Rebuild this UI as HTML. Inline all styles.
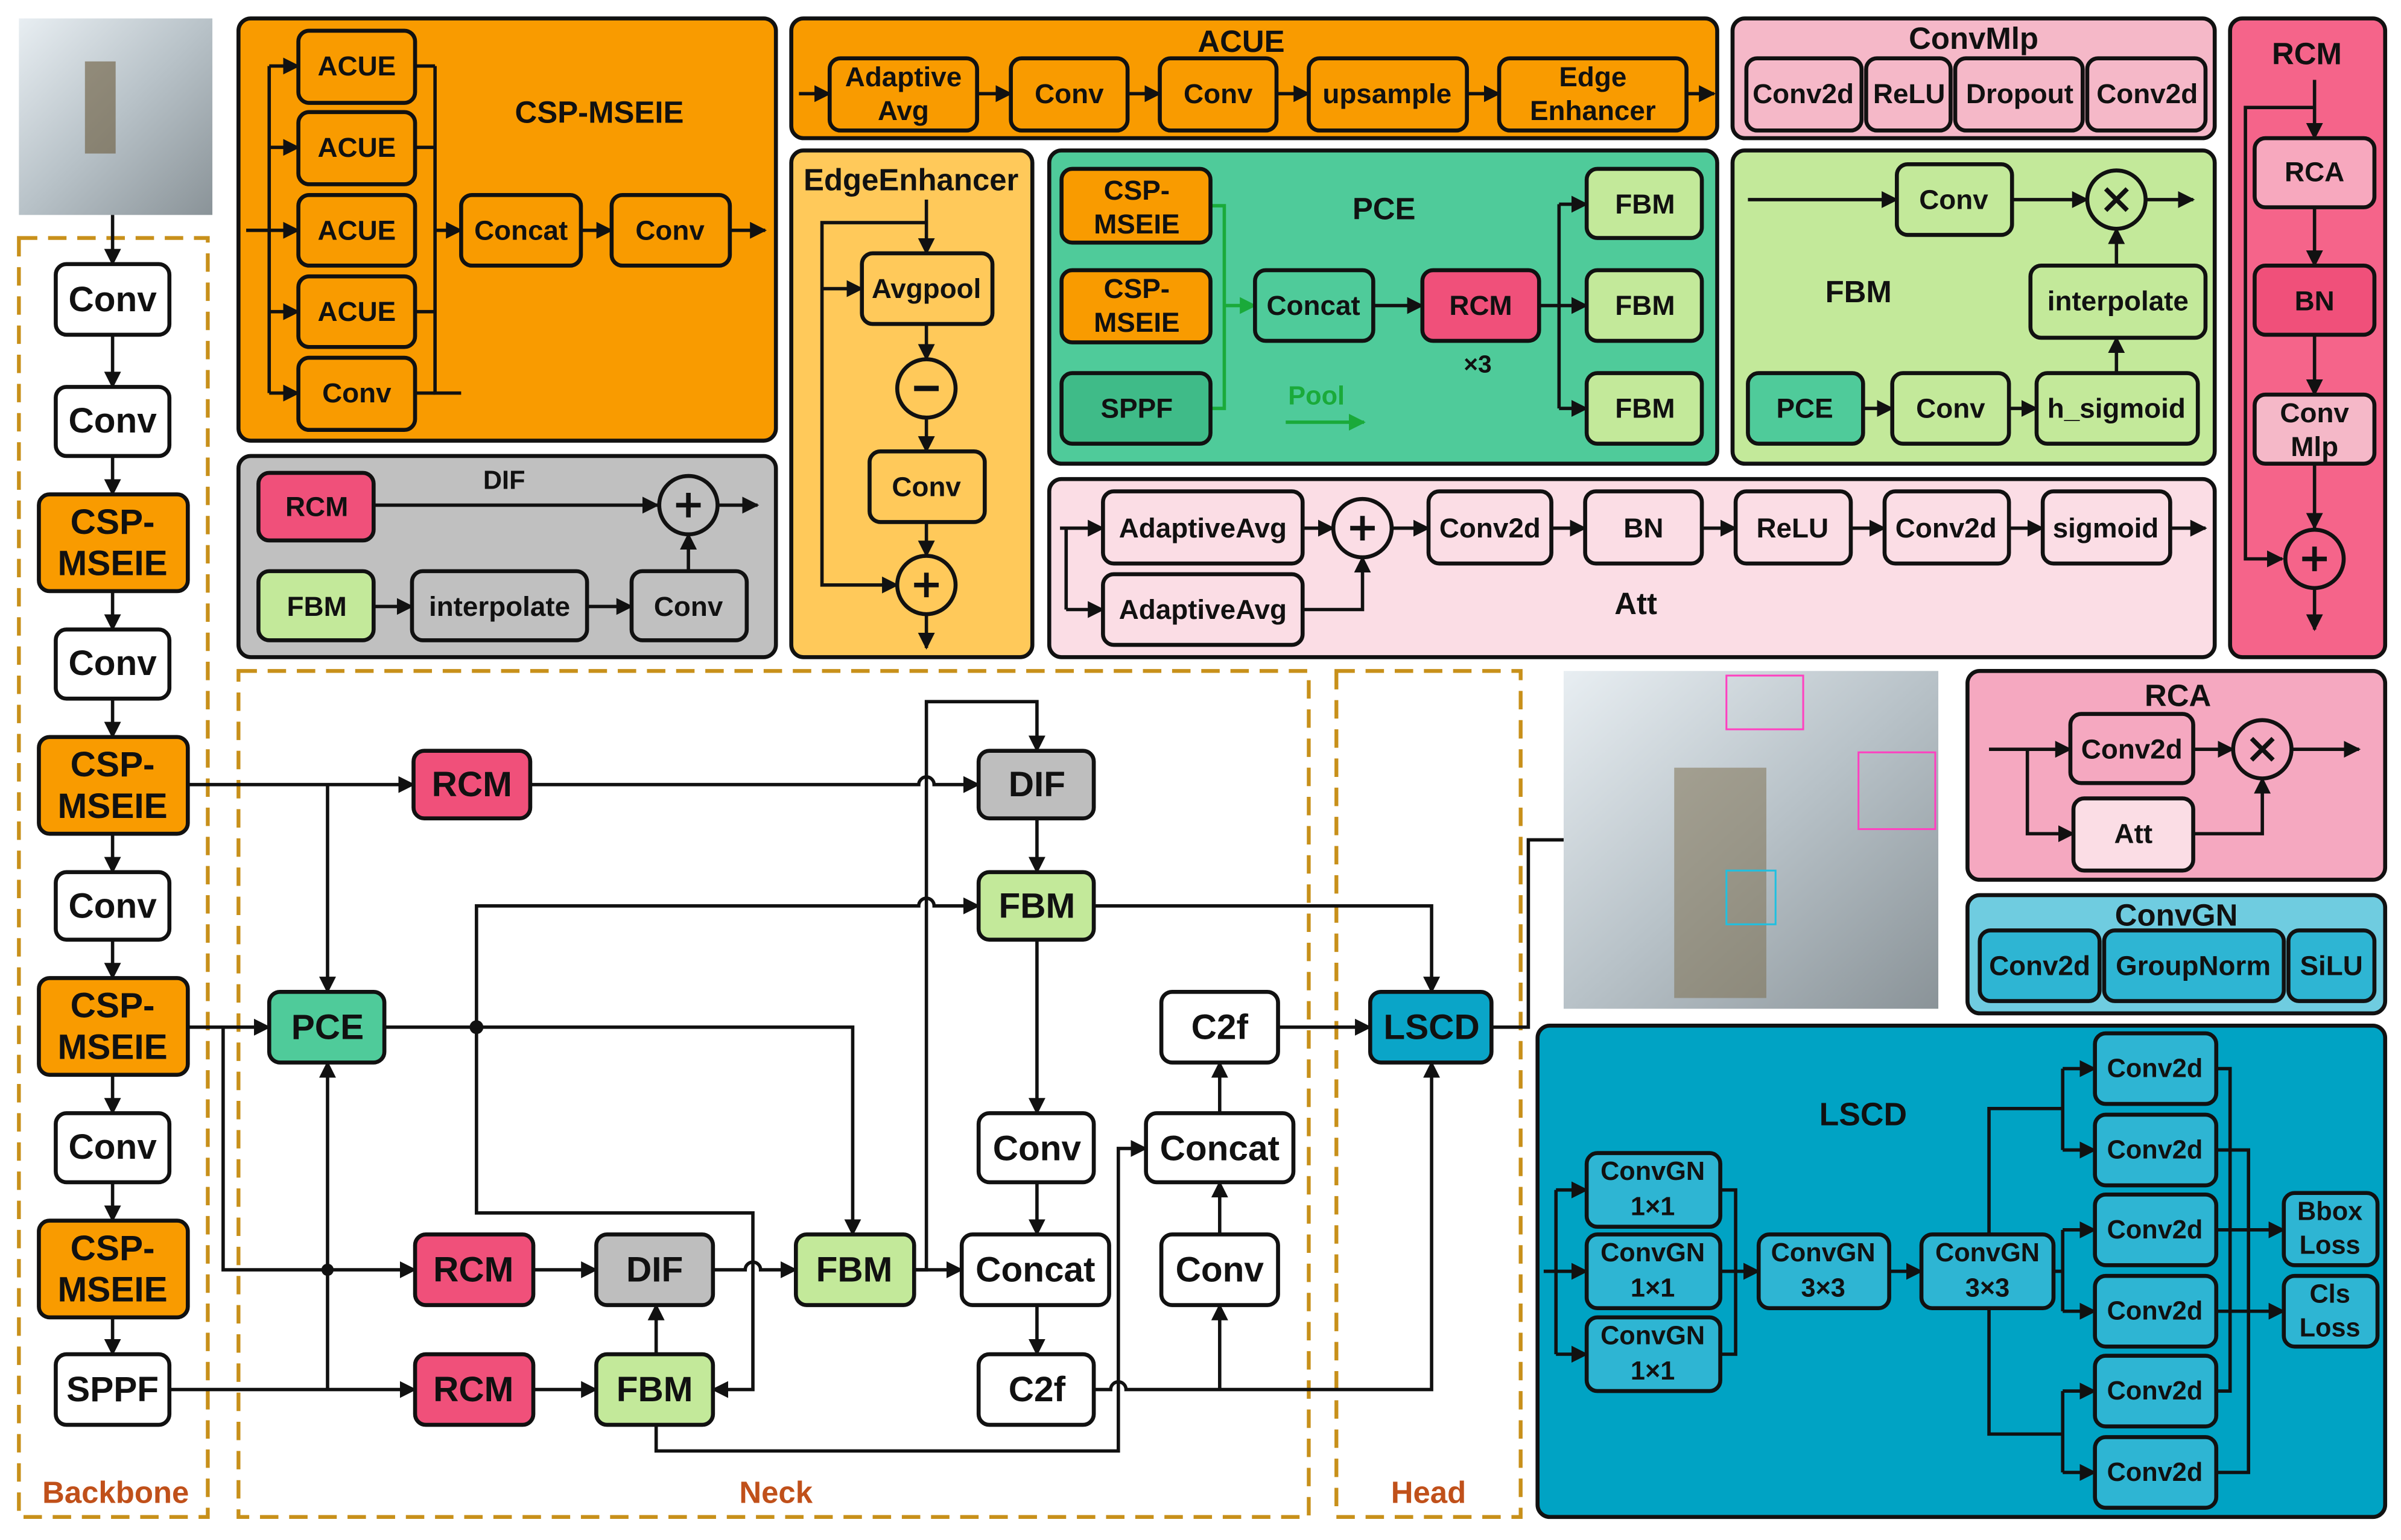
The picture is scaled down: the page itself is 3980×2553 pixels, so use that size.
<!DOCTYPE html>
<html><head><meta charset="utf-8"><style>
html,body{margin:0;padding:0;background:#fff}
svg{display:block}
text{font-family:"Liberation Sans","DejaVu Sans",sans-serif;font-weight:bold;text-anchor:middle;dominant-baseline:central;fill:#111}
.b{stroke:#111;stroke-width:2.6}
.l{stroke:#111;stroke-width:2.2;fill:none}
.p{stroke:#111;stroke-width:2.6}
.d{stroke:#C8901A;stroke-width:2.5;fill:none;stroke-dasharray:12 7}
</style></head><body>
<svg width="3980" height="2553" viewBox="0 0 1563 1003" xmlns="http://www.w3.org/2000/svg">
<defs>
<marker id="a" viewBox="0 0 10 10" refX="9" refY="5" markerWidth="5" markerHeight="5" orient="auto" markerUnits="strokeWidth"><path d="M0,0L10,5L0,10z" fill="#111"/></marker>
<marker id="g" viewBox="0 0 10 10" refX="9" refY="5" markerWidth="5" markerHeight="5" orient="auto" markerUnits="strokeWidth"><path d="M0,0L10,5L0,10z" fill="#1aaa3a"/></marker>
<linearGradient id="img" x1="0" y1="0" x2="1" y2="1"><stop offset="0" stop-color="#e8eef2"/><stop offset="0.5" stop-color="#b8c2c8"/><stop offset="1" stop-color="#8a9398"/></linearGradient>
</defs>
<rect width="1563" height="1003" fill="#fff"/>

<!-- top-left image -->
<rect x="12" y="12" width="126" height="128" fill="url(#img)"/>
<rect x="55" y="40" width="20" height="60" fill="#6b5a3a" opacity="0.6"/>

<!-- dashed regions -->
<rect class="d" x="12" y="155" width="123" height="833"/>
<rect class="d" x="155" y="437" width="697" height="551"/>
<rect class="d" x="870" y="437" width="120" height="551"/>
<text x="75" y="972" style="fill:#C0501A;font-size:20px">Backbone</text>
<text x="505" y="972" style="fill:#C0501A;font-size:20px">Neck</text>
<text x="930" y="972" style="fill:#C0501A;font-size:20px">Head</text>

<!-- backbone -->
<g style="font-size:23px">
<line class="l" x1="73" y1="140" x2="73" y2="172" marker-end="url(#a)"/>
<rect class="b" x="36" y="172" width="74" height="46" rx="7" fill="#fff"/><text x="73" y="195">Conv</text>
<line class="l" x1="73" y1="218" x2="73" y2="252" marker-end="url(#a)"/>
<rect class="b" x="36" y="252" width="74" height="45" rx="7" fill="#fff"/><text x="73" y="274">Conv</text>
<line class="l" x1="73" y1="297" x2="73" y2="322" marker-end="url(#a)"/>
<rect class="b" x="25" y="322" width="97" height="63" rx="7" fill="#F99B00"/><text x="73" y="340">CSP-</text><text x="73" y="367">MSEIE</text>
<line class="l" x1="73" y1="385" x2="73" y2="410" marker-end="url(#a)"/>
<rect class="b" x="36" y="410" width="74" height="45" rx="7" fill="#fff"/><text x="73" y="432">Conv</text>
<line class="l" x1="73" y1="455" x2="73" y2="480" marker-end="url(#a)"/>
<rect class="b" x="25" y="480" width="97" height="63" rx="7" fill="#F99B00"/><text x="73" y="498">CSP-</text><text x="73" y="525">MSEIE</text>
<line class="l" x1="73" y1="543" x2="73" y2="568" marker-end="url(#a)"/>
<rect class="b" x="36" y="568" width="74" height="44" rx="7" fill="#fff"/><text x="73" y="590">Conv</text>
<line class="l" x1="73" y1="612" x2="73" y2="637" marker-end="url(#a)"/>
<rect class="b" x="25" y="637" width="97" height="63" rx="7" fill="#F99B00"/><text x="73" y="655">CSP-</text><text x="73" y="682">MSEIE</text>
<line class="l" x1="73" y1="700" x2="73" y2="725" marker-end="url(#a)"/>
<rect class="b" x="36" y="725" width="74" height="45" rx="7" fill="#fff"/><text x="73" y="747">Conv</text>
<line class="l" x1="73" y1="770" x2="73" y2="795" marker-end="url(#a)"/>
<rect class="b" x="25" y="795" width="97" height="63" rx="7" fill="#F99B00"/><text x="73" y="813">CSP-</text><text x="73" y="840">MSEIE</text>
<line class="l" x1="73" y1="858" x2="73" y2="882" marker-end="url(#a)"/>
<rect class="b" x="36" y="882" width="74" height="46" rx="7" fill="#fff"/><text x="73" y="905">SPPF</text>
</g>

<!-- neck connections -->
<g>
<line class="l" x1="122" y1="511" x2="269" y2="511" marker-end="url(#a)"/>
<line class="l" x1="213" y1="511" x2="213" y2="646" marker-end="url(#a)"/>
<path class="l" d="M345,511H598a5,5 0 0 1 10,0H637" marker-end="url(#a)"/>
<path class="l" d="M595,827H603V457H675V489" marker-end="url(#a)"/>
<line class="l" x1="675" y1="533" x2="675" y2="568" marker-end="url(#a)"/>
<path class="l" d="M310,669V590H598a5,5 0 0 1 10,0H637" marker-end="url(#a)"/>
<path class="l" d="M310,669V790H490V905H464" marker-end="url(#a)"/>
<circle cx="310" cy="669" r="4.5" fill="#111"/>
<line class="l" x1="122" y1="669" x2="175" y2="669" marker-end="url(#a)"/>
<path class="l" d="M145,669V827H270" marker-end="url(#a)"/>
<path class="l" d="M250,669H555V804" marker-end="url(#a)"/>
<path class="l" d="M712,590H932V646" marker-end="url(#a)"/>
<line class="l" x1="675" y1="612" x2="675" y2="725" marker-end="url(#a)"/>
<line class="l" x1="675" y1="770" x2="675" y2="804" marker-end="url(#a)"/>
<line class="l" x1="675" y1="850" x2="675" y2="882" marker-end="url(#a)"/>
<path class="l" d="M712,905H723a5,5 0 0 1 10,0H932V692" marker-end="url(#a)"/>
<line class="l" x1="794" y1="905" x2="794" y2="850" marker-end="url(#a)"/>
<line class="l" x1="794" y1="804" x2="794" y2="770" marker-end="url(#a)"/>
<line class="l" x1="794" y1="725" x2="794" y2="692" marker-end="url(#a)"/>
<line class="l" x1="832" y1="669" x2="892" y2="669" marker-end="url(#a)"/>
<path class="l" d="M427,928V945H728V748H746" marker-end="url(#a)"/>
<line class="l" x1="110" y1="905" x2="270" y2="905" marker-end="url(#a)"/>
<line class="l" x1="213" y1="905" x2="213" y2="692" marker-end="url(#a)"/>
<circle cx="213" cy="827" r="4" fill="#111"/>
<line class="l" x1="347" y1="827" x2="388" y2="827" marker-end="url(#a)"/>
<path class="l" d="M464,827H485a5,5 0 0 1 10,0H518" marker-end="url(#a)"/>
<line class="l" x1="427" y1="882" x2="427" y2="850" marker-end="url(#a)"/>
<line class="l" x1="347" y1="905" x2="388" y2="905" marker-end="url(#a)"/>
<line class="l" x1="595" y1="827" x2="626" y2="827" marker-end="url(#a)"/>
<path class="l" d="M971,669H995V547H1018"/>
</g>

<!-- neck nodes -->
<g style="font-size:23px">
<rect class="b" x="269" y="489" width="76" height="44" rx="7" fill="#F0507A"/><text x="307" y="511">RCM</text>
<rect class="b" x="637" y="489" width="75" height="44" rx="7" fill="#BEBEBE"/><text x="675" y="511">DIF</text>
<rect class="b" x="637" y="568" width="75" height="44" rx="7" fill="#C3E99A"/><text x="675" y="590">FBM</text>
<rect class="b" x="175" y="646" width="75" height="46" rx="7" fill="#4FCB9A"/><text x="213" y="669">PCE</text>
<rect class="b" x="756" y="646" width="76" height="46" rx="7" fill="#fff"/><text x="794" y="669">C2f</text>
<rect class="b" x="892" y="646" width="79" height="46" rx="7" fill="#0AA5C8"/><text x="932" y="669">LSCD</text>
<rect class="b" x="637" y="725" width="75" height="45" rx="7" fill="#fff"/><text x="675" y="748">Conv</text>
<rect class="b" x="746" y="725" width="96" height="45" rx="7" fill="#fff"/><text x="794" y="748">Concat</text>
<rect class="b" x="270" y="804" width="77" height="46" rx="7" fill="#F0507A"/><text x="308" y="827">RCM</text>
<rect class="b" x="388" y="804" width="76" height="46" rx="7" fill="#BEBEBE"/><text x="426" y="827">DIF</text>
<rect class="b" x="518" y="804" width="77" height="46" rx="7" fill="#C3E99A"/><text x="556" y="827">FBM</text>
<rect class="b" x="626" y="804" width="96" height="46" rx="7" fill="#fff"/><text x="674" y="827">Concat</text>
<rect class="b" x="756" y="804" width="76" height="46" rx="7" fill="#fff"/><text x="794" y="827">Conv</text>
<rect class="b" x="270" y="882" width="77" height="46" rx="7" fill="#F0507A"/><text x="308" y="905">RCM</text>
<rect class="b" x="388" y="882" width="76" height="46" rx="7" fill="#C3E99A"/><text x="426" y="905">FBM</text>
<rect class="b" x="637" y="882" width="75" height="46" rx="7" fill="#fff"/><text x="675" y="905">C2f</text>
</g>

<!-- detection image -->
<rect x="1018" y="437" width="244" height="220" fill="url(#img)"/>
<rect x="1090" y="500" width="60" height="150" fill="#7a6a48" opacity="0.5"/>
<rect x="1124" y="440" width="50" height="35" fill="none" stroke="#ff40c0" stroke-width="1.2"/>
<rect x="1210" y="490" width="50" height="50" fill="none" stroke="#ff40c0" stroke-width="1.2"/>
<rect x="1124" y="567" width="32" height="35" fill="none" stroke="#20c0e0" stroke-width="1.2"/>

<!-- CSP-MSEIE panel -->
<rect class="p" x="155" y="12" width="350" height="275" rx="8" fill="#F99B00"/>
<text x="390" y="73" style="font-size:20px">CSP-MSEIE</text>
<g style="font-size:18px">
<path class="l" d="M160,150H175M175,43V256M283,43V256H300"/>
<line class="l" x1="175" y1="43" x2="194" y2="43" marker-end="url(#a)"/>
<line class="l" x1="175" y1="96" x2="194" y2="96" marker-end="url(#a)"/>
<line class="l" x1="175" y1="150" x2="194" y2="150" marker-end="url(#a)"/>
<line class="l" x1="175" y1="203" x2="194" y2="203" marker-end="url(#a)"/>
<line class="l" x1="175" y1="256" x2="194" y2="256" marker-end="url(#a)"/>
<path class="l" d="M270,43H283M270,96H283M270,203H283M270,256H283"/>
<line class="l" x1="283" y1="150" x2="300" y2="150" marker-end="url(#a)"/>
<rect class="b" x="194" y="20" width="76" height="47" rx="7" fill="#F99B00"/><text x="232" y="43">ACUE</text>
<rect class="b" x="194" y="73" width="76" height="47" rx="7" fill="#F99B00"/><text x="232" y="96">ACUE</text>
<rect class="b" x="194" y="127" width="76" height="46" rx="7" fill="#F99B00"/><text x="232" y="150">ACUE</text>
<rect class="b" x="194" y="180" width="76" height="46" rx="7" fill="#F99B00"/><text x="232" y="203">ACUE</text>
<rect class="b" x="194" y="233" width="76" height="47" rx="7" fill="#F99B00"/><text x="232" y="256">Conv</text>
<rect class="b" x="300" y="127" width="78" height="46" rx="7" fill="#F99B00"/><text x="339" y="150">Concat</text>
<line class="l" x1="378" y1="150" x2="398" y2="150" marker-end="url(#a)"/>
<rect class="b" x="398" y="127" width="77" height="46" rx="7" fill="#F99B00"/><text x="436" y="150">Conv</text>
<line class="l" x1="475" y1="150" x2="498" y2="150" marker-end="url(#a)"/>
</g>

<!-- DIF panel -->
<rect class="p" x="155" y="297" width="350" height="131" rx="8" fill="#C0C0C0"/>
<g style="font-size:18px">
<text x="328" y="313" style="font-size:17px">DIF</text>
<line class="l" x1="243" y1="329" x2="428" y2="329" marker-end="url(#a)"/>
<circle cx="448" cy="329" r="19" class="b" fill="#C0C0C0"/><path class="l" d="M440,329H456M448,321V337" style="stroke-width:3"/>
<line class="l" x1="467" y1="329" x2="493" y2="329" marker-end="url(#a)"/>
<rect class="b" x="168" y="308" width="75" height="44" rx="7" fill="#F0507A"/><text x="206" y="330">RCM</text>
<rect class="b" x="168" y="372" width="75" height="45" rx="7" fill="#C3E99A"/><text x="206" y="395">FBM</text>
<line class="l" x1="243" y1="395" x2="268" y2="395" marker-end="url(#a)"/>
<rect class="b" x="268" y="372" width="114" height="45" rx="7" fill="#C0C0C0"/><text x="325" y="395">interpolate</text>
<line class="l" x1="382" y1="395" x2="411" y2="395" marker-end="url(#a)"/>
<rect class="b" x="411" y="372" width="75" height="45" rx="7" fill="#C0C0C0"/><text x="448" y="395">Conv</text>
<line class="l" x1="448" y1="372" x2="448" y2="348" marker-end="url(#a)"/>
</g>

<!-- ACUE panel -->
<rect class="p" x="515" y="12" width="603" height="78" rx="8" fill="#F99B00"/>
<g style="font-size:18px">
<text x="808" y="27" style="font-size:20px">ACUE</text>
<line class="l" x1="520" y1="61" x2="540" y2="61" marker-end="url(#a)"/>
<rect class="b" x="540" y="38" width="96" height="47" rx="7" fill="#F99B00"/><text x="588" y="50">Adaptive</text><text x="588" y="72">Avg</text>
<line class="l" x1="636" y1="61" x2="658" y2="61" marker-end="url(#a)"/>
<rect class="b" x="658" y="38" width="76" height="47" rx="7" fill="#F99B00"/><text x="696" y="61">Conv</text>
<line class="l" x1="734" y1="61" x2="755" y2="61" marker-end="url(#a)"/>
<rect class="b" x="755" y="38" width="76" height="47" rx="7" fill="#F99B00"/><text x="793" y="61">Conv</text>
<line class="l" x1="831" y1="61" x2="852" y2="61" marker-end="url(#a)"/>
<rect class="b" x="852" y="38" width="103" height="47" rx="7" fill="#F99B00"/><text x="903" y="61">upsample</text>
<line class="l" x1="955" y1="61" x2="976" y2="61" marker-end="url(#a)"/>
<rect class="b" x="976" y="38" width="122" height="47" rx="7" fill="#F99B00"/><text x="1037" y="50">Edge</text><text x="1037" y="72">Enhancer</text>
<line class="l" x1="1098" y1="61" x2="1116" y2="61" marker-end="url(#a)"/>
</g>

<!-- ConvMlp -->
<rect class="p" x="1128" y="12" width="314" height="78" rx="8" fill="#F5B8C8"/>
<g style="font-size:18px">
<text x="1285" y="25" style="font-size:20px">ConvMlp</text>
<rect class="b" x="1137" y="38" width="75" height="47" rx="7" fill="#F5B8C8"/><text x="1174" y="61">Conv2d</text>
<rect class="b" x="1215" y="38" width="55" height="47" rx="7" fill="#F5B8C8"/><text x="1243" y="61">ReLU</text>
<rect class="b" x="1273" y="38" width="83" height="47" rx="7" fill="#F5B8C8"/><text x="1315" y="61">Dropout</text>
<rect class="b" x="1359" y="38" width="77" height="47" rx="7" fill="#F5B8C8"/><text x="1398" y="61">Conv2d</text>
</g>

<!-- RCM panel -->
<rect class="p" x="1452" y="12" width="101" height="416" rx="8" fill="#F5648A"/>
<g style="font-size:18px">
<text x="1502" y="35" style="font-size:20px">RCM</text>
<line class="l" x1="1507" y1="52" x2="1507" y2="90" marker-end="url(#a)"/>
<rect class="b" x="1468" y="90" width="78" height="45" rx="7" fill="#F7A8BE"/><text x="1507" y="112">RCA</text>
<line class="l" x1="1507" y1="135" x2="1507" y2="173" marker-end="url(#a)"/>
<rect class="b" x="1468" y="173" width="78" height="45" rx="7" fill="#F0507A"/><text x="1507" y="196">BN</text>
<line class="l" x1="1507" y1="218" x2="1507" y2="257" marker-end="url(#a)"/>
<rect class="b" x="1468" y="257" width="78" height="45" rx="7" fill="#F5B8C8"/><text x="1507" y="269">Conv</text><text x="1507" y="291">Mlp</text>
<line class="l" x1="1507" y1="302" x2="1507" y2="344" marker-end="url(#a)"/>
<path class="l" d="M1507,70H1462V364H1486" marker-end="url(#a)"/>
<circle cx="1507" cy="364" r="19" class="b" fill="#F5648A"/><path class="l" d="M1499,364H1515M1507,356V372" style="stroke-width:3"/>
<line class="l" x1="1507" y1="383" x2="1507" y2="410" marker-end="url(#a)"/>
</g>

<!-- EdgeEnhancer -->
<rect class="p" x="515" y="98" width="157" height="330" rx="8" fill="#FFC95A"/>
<g style="font-size:18px">
<text x="593" y="117" style="font-size:20px">EdgeEnhancer</text>
<line class="l" x1="603" y1="130" x2="603" y2="165" marker-end="url(#a)"/>
<path class="l" d="M603,145H535V381H584" marker-end="url(#a)"/>
<line class="l" x1="535" y1="188" x2="561" y2="188" marker-end="url(#a)"/>
<rect class="b" x="561" y="165" width="85" height="46" rx="7" fill="#FFC95A"/><text x="603" y="188">Avgpool</text>
<line class="l" x1="603" y1="211" x2="603" y2="234" marker-end="url(#a)"/>
<circle cx="603" cy="253" r="19" class="b" fill="#FFC95A"/><path class="l" d="M595,253H611" style="stroke-width:3.5"/>
<line class="l" x1="603" y1="272" x2="603" y2="294" marker-end="url(#a)"/>
<rect class="b" x="566" y="294" width="75" height="46" rx="7" fill="#FFC95A"/><text x="603" y="317">Conv</text>
<line class="l" x1="603" y1="340" x2="603" y2="362" marker-end="url(#a)"/>
<circle cx="603" cy="381" r="19" class="b" fill="#FFC95A"/><path class="l" d="M595,381H611M603,373V389" style="stroke-width:3"/>
<line class="l" x1="603" y1="400" x2="603" y2="422" marker-end="url(#a)"/>
</g>

<!-- PCE panel -->
<rect class="p" x="683" y="98" width="435" height="204" rx="8" fill="#4FCB9A"/>
<g style="font-size:18px">
<text x="901" y="136" style="font-size:20px">PCE</text>
<path d="M788,134H797V266H788M797,199H817" stroke="#1aaa3a" stroke-width="2.2" fill="none" marker-end="url(#g)"/>
<rect class="b" x="691" y="110" width="97" height="48" rx="7" fill="#F99B00"/><text x="740" y="124">CSP-</text><text x="740" y="146">MSEIE</text>
<rect class="b" x="691" y="176" width="97" height="47" rx="7" fill="#F99B00"/><text x="740" y="188">CSP-</text><text x="740" y="210">MSEIE</text>
<rect class="b" x="691" y="243" width="97" height="46" rx="7" fill="#3FBB88"/><text x="740" y="266">SPPF</text>
<rect class="b" x="817" y="176" width="77" height="46" rx="7" fill="#4FCB9A"/><text x="855" y="199">Concat</text>
<line class="l" x1="894" y1="199" x2="926" y2="199" marker-end="url(#a)"/>
<rect class="b" x="926" y="176" width="76" height="46" rx="7" fill="#F0507A"/><text x="964" y="199">RCM</text>
<text x="962" y="237" style="font-size:16px">×3</text>
<path class="l" d="M1002,199H1015M1015,133V266"/>
<line class="l" x1="1015" y1="133" x2="1033" y2="133" marker-end="url(#a)"/>
<line class="l" x1="1015" y1="199" x2="1033" y2="199" marker-end="url(#a)"/>
<line class="l" x1="1015" y1="266" x2="1033" y2="266" marker-end="url(#a)"/>
<rect class="b" x="1033" y="110" width="75" height="45" rx="7" fill="#C3E99A"/><text x="1071" y="133">FBM</text>
<rect class="b" x="1033" y="176" width="75" height="46" rx="7" fill="#C3E99A"/><text x="1071" y="199">FBM</text>
<rect class="b" x="1033" y="243" width="75" height="46" rx="7" fill="#C3E99A"/><text x="1071" y="266">FBM</text>
<text x="857" y="258" style="fill:#1aaa3a;font-size:17px">Pool</text>
<line x1="837" y1="275" x2="888" y2="275" stroke="#1aaa3a" stroke-width="2.2" marker-end="url(#g)"/>
</g>

<!-- FBM panel -->
<rect class="p" x="1128" y="98" width="314" height="204" rx="8" fill="#C3E99A"/>
<g style="font-size:18px">
<text x="1210" y="190" style="font-size:20px">FBM</text>
<line class="l" x1="1138" y1="130" x2="1235" y2="130" marker-end="url(#a)"/>
<rect class="b" x="1235" y="107" width="75" height="46" rx="7" fill="#C3E99A"/><text x="1272" y="130">Conv</text>
<line class="l" x1="1310" y1="130" x2="1359" y2="130" marker-end="url(#a)"/>
<circle cx="1378" cy="130" r="19" class="b" fill="#C3E99A"/><path class="l" d="M1371,123L1385,137M1385,123L1371,137" style="stroke-width:3"/>
<line class="l" x1="1397" y1="130" x2="1428" y2="130" marker-end="url(#a)"/>
<rect class="b" x="1322" y="173" width="114" height="47" rx="7" fill="#C3E99A"/><text x="1379" y="196">interpolate</text>
<line class="l" x1="1378" y1="173" x2="1378" y2="149" marker-end="url(#a)"/>
<rect class="b" x="1138" y="243" width="75" height="46" rx="7" fill="#4FCB9A"/><text x="1175" y="266">PCE</text>
<line class="l" x1="1213" y1="266" x2="1232" y2="266" marker-end="url(#a)"/>
<rect class="b" x="1232" y="243" width="76" height="46" rx="7" fill="#C3E99A"/><text x="1270" y="266">Conv</text>
<line class="l" x1="1308" y1="266" x2="1326" y2="266" marker-end="url(#a)"/>
<rect class="b" x="1326" y="243" width="105" height="46" rx="7" fill="#C3E99A"/><text x="1378" y="266">h_sigmoid</text>
<line class="l" x1="1378" y1="243" x2="1378" y2="220" marker-end="url(#a)"/>
</g>

<!-- Att panel -->
<rect class="p" x="683" y="312" width="759" height="116" rx="8" fill="#FBDDE5"/>
<g style="font-size:18px">
<path class="l" d="M694,344V397"/>
<line class="l" x1="690" y1="344" x2="718" y2="344" marker-end="url(#a)"/>
<line class="l" x1="694" y1="397" x2="718" y2="397" marker-end="url(#a)"/>
<rect class="b" x="718" y="320" width="130" height="47" rx="7" fill="#FBDDE5"/><text x="783" y="344">AdaptiveAvg</text>
<rect class="b" x="718" y="374" width="130" height="46" rx="7" fill="#FBDDE5"/><text x="783" y="397">AdaptiveAvg</text>
<line class="l" x1="848" y1="344" x2="868" y2="344" marker-end="url(#a)"/>
<path class="l" d="M848,397H887V363" marker-end="url(#a)"/>
<circle cx="887" cy="344" r="19" class="b" fill="#FBDDE5"/><path class="l" d="M879,344H895M887,336V352" style="stroke-width:3"/>
<line class="l" x1="906" y1="344" x2="930" y2="344" marker-end="url(#a)"/>
<rect class="b" x="930" y="320" width="80" height="47" rx="7" fill="#FBDDE5"/><text x="970" y="344">Conv2d</text>
<line class="l" x1="1010" y1="344" x2="1032" y2="344" marker-end="url(#a)"/>
<rect class="b" x="1032" y="320" width="76" height="47" rx="7" fill="#FBDDE5"/><text x="1070" y="344">BN</text>
<line class="l" x1="1108" y1="344" x2="1130" y2="344" marker-end="url(#a)"/>
<rect class="b" x="1130" y="320" width="75" height="47" rx="7" fill="#FBDDE5"/><text x="1167" y="344">ReLU</text>
<line class="l" x1="1205" y1="344" x2="1227" y2="344" marker-end="url(#a)"/>
<rect class="b" x="1227" y="320" width="81" height="47" rx="7" fill="#FBDDE5"/><text x="1267" y="344">Conv2d</text>
<line class="l" x1="1308" y1="344" x2="1330" y2="344" marker-end="url(#a)"/>
<rect class="b" x="1330" y="320" width="83" height="47" rx="7" fill="#FBDDE5"/><text x="1371" y="344">sigmoid</text>
<line class="l" x1="1413" y1="344" x2="1436" y2="344" marker-end="url(#a)"/>
<text x="1065" y="393" style="font-size:20px">Att</text>
</g>

<!-- RCA panel -->
<rect class="p" x="1281" y="437" width="272" height="136" rx="8" fill="#F5A8C0"/>
<g style="font-size:18px">
<text x="1418" y="453" style="font-size:20px">RCA</text>
<line class="l" x1="1295" y1="488" x2="1348" y2="488" marker-end="url(#a)"/>
<path class="l" d="M1320,488V543H1350" marker-end="url(#a)"/>
<rect class="b" x="1348" y="465" width="80" height="45" rx="7" fill="#F5A8C0"/><text x="1388" y="488">Conv2d</text>
<line class="l" x1="1428" y1="488" x2="1454" y2="488" marker-end="url(#a)"/>
<circle cx="1473" cy="488" r="19" class="b" fill="#F5A8C0"/><path class="l" d="M1466,481L1480,495M1480,481L1466,495" style="stroke-width:3"/>
<line class="l" x1="1492" y1="488" x2="1536" y2="488" marker-end="url(#a)"/>
<rect class="b" x="1350" y="520" width="78" height="47" rx="7" fill="#FBDDE5"/><text x="1389" y="543">Att</text>
<path class="l" d="M1428,543H1473V507" marker-end="url(#a)"/>
</g>

<!-- ConvGN panel -->
<rect class="p" x="1281" y="583" width="272" height="77" rx="8" fill="#6FCCE0"/>
<g style="font-size:18px">
<text x="1417" y="596" style="font-size:20px">ConvGN</text>
<rect class="b" x="1289" y="606" width="78" height="46" rx="7" fill="#2EB5D3"/><text x="1328" y="629">Conv2d</text>
<rect class="b" x="1370" y="606" width="117" height="46" rx="7" fill="#2EB5D3"/><text x="1428" y="629">GroupNorm</text>
<rect class="b" x="1490" y="606" width="56" height="46" rx="7" fill="#2EB5D3"/><text x="1518" y="629">SiLU</text>
</g>

<!-- LSCD panel -->
<rect class="p" x="1001" y="668" width="552" height="320" rx="8" fill="#00A3C4"/>
<g style="font-size:17px">
<text x="1213" y="726" style="font-size:21px">LSCD</text>
<path class="l" d="M1013,775V882"/>
<line class="l" x1="1005" y1="828" x2="1033" y2="828" marker-end="url(#a)"/>
<line class="l" x1="1013" y1="775" x2="1033" y2="775" marker-end="url(#a)"/>
<line class="l" x1="1013" y1="882" x2="1033" y2="882" marker-end="url(#a)"/>
<path class="l" d="M1120,775H1130V882H1120M1120,828H1130"/>
<line class="l" x1="1130" y1="828" x2="1145" y2="828" marker-end="url(#a)"/>
<rect class="b" x="1033" y="751" width="87" height="48" rx="7" fill="#2EB5D3"/><text x="1076" y="763">ConvGN</text><text x="1076" y="786">1×1</text>
<rect class="b" x="1033" y="804" width="87" height="48" rx="7" fill="#2EB5D3"/><text x="1076" y="816">ConvGN</text><text x="1076" y="839">1×1</text>
<rect class="b" x="1033" y="858" width="87" height="48" rx="7" fill="#2EB5D3"/><text x="1076" y="870">ConvGN</text><text x="1076" y="893">1×1</text>
<rect class="b" x="1145" y="804" width="85" height="48" rx="7" fill="#2EB5D3"/><text x="1187" y="816">ConvGN</text><text x="1187" y="839">3×3</text>
<line class="l" x1="1230" y1="828" x2="1251" y2="828" marker-end="url(#a)"/>
<rect class="b" x="1251" y="804" width="86" height="48" rx="7" fill="#2EB5D3"/><text x="1294" y="816">ConvGN</text><text x="1294" y="839">3×3</text>
<path class="l" d="M1295,804V722H1343V696M1343,722V749M1337,828H1343V801M1343,828V854M1295,852V934H1343V906M1343,934V959"/>
<line class="l" x1="1343" y1="696" x2="1364" y2="696" marker-end="url(#a)"/>
<line class="l" x1="1343" y1="749" x2="1364" y2="749" marker-end="url(#a)"/>
<line class="l" x1="1343" y1="801" x2="1364" y2="801" marker-end="url(#a)"/>
<line class="l" x1="1343" y1="854" x2="1364" y2="854" marker-end="url(#a)"/>
<line class="l" x1="1343" y1="906" x2="1364" y2="906" marker-end="url(#a)"/>
<line class="l" x1="1343" y1="959" x2="1364" y2="959" marker-end="url(#a)"/>
<rect class="b" x="1364" y="673" width="79" height="46" rx="7" fill="#2EB5D3"/><text x="1403" y="696">Conv2d</text>
<rect class="b" x="1364" y="726" width="79" height="46" rx="7" fill="#2EB5D3"/><text x="1403" y="749">Conv2d</text>
<rect class="b" x="1364" y="778" width="79" height="46" rx="7" fill="#2EB5D3"/><text x="1403" y="801">Conv2d</text>
<rect class="b" x="1364" y="831" width="79" height="46" rx="7" fill="#2EB5D3"/><text x="1403" y="854">Conv2d</text>
<rect class="b" x="1364" y="883" width="79" height="46" rx="7" fill="#2EB5D3"/><text x="1403" y="906">Conv2d</text>
<rect class="b" x="1364" y="936" width="79" height="46" rx="7" fill="#2EB5D3"/><text x="1403" y="959">Conv2d</text>
<path class="l" d="M1443,696H1452V906H1443M1443,801H1452M1443,749H1464V959H1443M1443,854H1464"/>
<line class="l" x1="1452" y1="801" x2="1487" y2="801" marker-end="url(#a)"/>
<line class="l" x1="1464" y1="854" x2="1487" y2="854" marker-end="url(#a)"/>
<rect class="b" x="1487" y="777" width="61" height="47" rx="7" fill="#2EB5D3"/><text x="1517" y="789">Bbox</text><text x="1517" y="811">Loss</text>
<rect class="b" x="1487" y="831" width="61" height="46" rx="7" fill="#2EB5D3"/><text x="1517" y="843">Cls</text><text x="1517" y="865">Loss</text>
</g>
</svg>
</body></html>
